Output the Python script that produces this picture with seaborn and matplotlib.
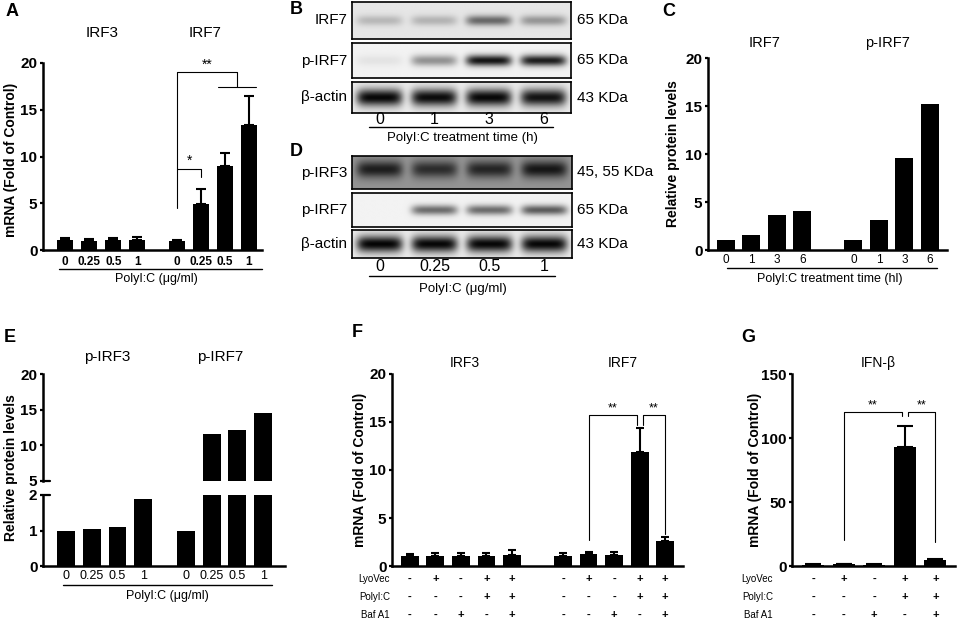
import numpy as np
import matplotlib
matplotlib.use('Agg')
import matplotlib.pyplot as plt
import seaborn as sns
from matplotlib.lines import Line2D
from matplotlib.transforms import blended_transform_factory

# ---- values ----
a_labels = ['0', '0.25', '0.5', '1']
a_irf3 = [1.05, 1.0, 1.1, 1.1]
a_irf3_top = [1.3, 1.2, 1.25, 1.4]
a_irf7 = [1.0, 4.95, 8.95, 13.35]
a_irf7_top = [1.1, 6.5, 10.4, 16.5]

c_labels = ['0', '1', '3', '6']
c_irf7 = [1.0, 1.6, 3.6, 4.1]
c_pirf7 = [1.0, 3.1, 9.6, 15.2]

e_labels = ['0', '0.25', '0.5', '1']
e_pirf3 = [1.0, 1.05, 1.1, 1.88]
e_pirf7 = [1.0, 11.6, 12.2, 14.6]

f_irf3 = [1.05, 1.05, 1.05, 1.05, 1.1]
f_irf3_top = [1.25, 1.35, 1.35, 1.4, 1.65]
f_irf7 = [1.05, 1.2, 1.1, 11.9, 2.6]
f_irf7_top = [1.35, 1.45, 1.5, 14.4, 3.0]

g_ifnb = [1.0, 1.2, 1.0, 93.0, 5.0]
g_ifnb_top = [1.3, 1.5, 1.2, 109.0, 5.8]

treat_rows = ['LyoVec', 'PolyI:C', 'Baf A1']
lyovec = ['-', '+', '-', '+', '+']
polyic = ['-', '-', '-', '+', '+']
bafa1 = ['-', '-', '+', '-', '+']

# western blots: band darkness per lane (0 = none, 1 = black)
b_lanes = ['0', '1', '3', '6']
b_rows = ['IRF7', 'p-IRF7', 'β-actin']
b_kda = ['65 KDa', '65 KDa', '43 KDa']
b_irf7_band = [0.2, 0.22, 0.55, 0.35]
b_pirf7_band = [0.06, 0.4, 0.92, 0.88]
b_actin_band = [0.97, 0.95, 0.97, 0.92]

d_lanes = ['0', '0.25', '0.5', '1']
d_rows = ['p-IRF3', 'p-IRF7', 'β-actin']
d_kda = ['45, 55 KDa', '65 KDa', '43 KDa']
d_pirf3_band = [0.8, 0.7, 0.75, 0.85]
d_pirf7_band = [0.0, 0.55, 0.55, 0.62]
d_actin_band = [0.98, 0.97, 0.97, 0.97]

# ---- style ----
sns.set_style('ticks', rc={'text.color': 'black', 'axes.labelcolor': 'black',
                           'xtick.color': 'black', 'ytick.color': 'black',
                           'axes.edgecolor': 'black'})
plt.rcParams['font.family'] = ['Liberation Sans', 'DejaVu Sans']

W, H = 957, 619
fig = plt.figure(figsize=(W / 100, H / 100), dpi=100)


def ax_px(x0, y0, x1, y1):
    return fig.add_axes([x0 / W, 1 - y1 / H, (x1 - x0) / W, (y1 - y0) / H])


def txt(x, y, s, ha='center', **kw):
    fig.text(x / W, 1 - y / H, s, ha=ha, va='center', **kw)


def hline(x0, x1, y, lw=1.0):
    fig.add_artist(Line2D([x0 / W, x1 / W], [1 - y / H] * 2, color='black',
                          lw=lw, transform=fig.transFigure))


def group_x(n, start):
    return [start + i for i in range(n)]


def bars(ax, x, y, top=None, width=0.7, cap=3.5):
    sns.barplot(x=x, y=y, native_scale=True, orient='x', color='black',
                saturation=1, width=width, errorbar=None, linewidth=0, ax=ax)
    if top is not None:
        y = np.asarray(y)
        top = np.asarray(top)
        ax.errorbar(x, y, yerr=[np.zeros_like(y), top - y], fmt='none',
                    ecolor='black', elinewidth=1.5, capsize=cap, capthick=1.5)


def style(ax, ylim, yticks, xlim):
    ax.set_ylim(*ylim)
    ax.set_xlim(*xlim)
    ax.set_yticks(yticks)
    ax.set_yticklabels([str(v) for v in yticks], fontweight='bold', fontsize=11)
    sns.despine(ax=ax)
    for s in ['left', 'bottom']:
        ax.spines[s].set_linewidth(1.8)
    ax.tick_params(axis='y', width=1.6, length=2.5, pad=1.5)
    ax.tick_params(axis='x', length=0)
    ax.set_xlabel('')
    ax.set_ylabel('')


def bracket(ax, xs, ys, lw=0.8):
    ax.plot(xs, ys, color='black', lw=lw, clip_on=False)


def blot(box, bands, bg, yc, sig, hw=0.42):
    ax = ax_px(*box)
    xs = np.linspace(0, 4, 400)
    ys = np.linspace(0, 1, 60)
    X, Y = np.meshgrid(xs, ys)
    dark = np.full_like(X, bg)
    for i, d in enumerate(bands):
        prof = np.exp(-((X - (i + 0.5)) / hw) ** 6) * np.exp(-((Y - yc) / sig) ** 2)
        dark = dark + (1 - dark) * d * prof
    ax.imshow(1 - dark, cmap='gray', vmin=0, vmax=1, extent=(0, 4, 0, 1),
              aspect='auto', origin='lower')
    ax.set_xticks([])
    ax.set_yticks([])
    for s in ax.spines.values():
        s.set_visible(True)
        s.set_linewidth(1.2)
    return ax


# ---- A ----
ax = ax_px(43, 63, 262, 250)
xa = group_x(4, 0) + group_x(4, 4.66)
bars(ax, xa, a_irf3 + a_irf7, a_irf3_top + a_irf7_top, width=0.68)
style(ax, (0, 20), [0, 5, 10, 15, 20], (-0.93, 8.2))
ax.set_xticks(xa)
ax.set_xticklabels(a_labels * 2, fontweight='bold', fontsize=8.5)
ax.tick_params(axis='x', pad=4)
bracket(ax, [xa[4], xa[4], (xa[6] + xa[7]) / 2, (xa[6] + xa[7]) / 2], [4.45, 19.0, 19.0, 17.4])
bracket(ax, [xa[6] - 0.3, xa[7] + 0.3], [17.4, 17.4])
bracket(ax, [xa[4], xa[5], xa[5]], [8.7, 8.7, 7.8])
ax.text((xa[4] + xa[5]) / 2, 8.8, '*', ha='center', va='bottom', fontsize=10)
ax.text((xa[4] + (xa[6] + xa[7]) / 2) / 2, 19.1, '**', ha='center', va='bottom', fontsize=10)
hline(59, 262, 269)
txt(156, 279, 'PolyI:C (μg/ml)', fontsize=9)
txt(102, 33, 'IRF3', fontsize=11)
txt(205, 33, 'IRF7', fontsize=11)
txt(11, 160, 'mRNA (Fold of Control)', rotation=90, fontsize=10, fontweight='bold')
txt(12, 12, 'A', fontsize=13, fontweight='bold')

# ---- B ----
b_boxes = [(352, 2, 571, 39), (352, 43, 571, 78), (352, 82, 571, 113)]
blot(b_boxes[0], b_irf7_band, 0.1, 0.5, 0.14)
blot(b_boxes[1], b_pirf7_band, 0.05, 0.5, 0.16)
blot(b_boxes[2], b_actin_band, 0.08, 0.5, 0.28)
for (x0, y0, x1, y1), name, kda in zip(b_boxes, b_rows, b_kda):
    txt(347, (y0 + y1) / 2, name, ha='right', fontsize=11)
    txt(577, (y0 + y1) / 2, kda, ha='left', fontsize=11)
for i, lab in enumerate(b_lanes):
    txt(352 + (i + 0.5) * 219 / 4, 119, lab, fontsize=11.5)
hline(369, 553, 127)
txt(462, 138, 'PolyI:C treatment time (h)', fontsize=9.5)
txt(296, 10, 'B', fontsize=13, fontweight='bold')

# ---- D ----
d_boxes = [(352, 156, 572, 189), (352, 193, 572, 227), (352, 230, 572, 258)]
blot(d_boxes[0], d_pirf3_band, 0.42, 0.6, 0.26)
blot(d_boxes[1], d_pirf7_band, 0.05, 0.5, 0.15)
blot(d_boxes[2], d_actin_band, 0.08, 0.5, 0.3)
for (x0, y0, x1, y1), name, kda in zip(d_boxes, d_rows, d_kda):
    txt(347, (y0 + y1) / 2, name, ha='right', fontsize=11)
    txt(577, (y0 + y1) / 2, kda, ha='left', fontsize=11)
for i, lab in enumerate(d_lanes):
    txt(352 + (i + 0.5) * 220 / 4, 267, lab, fontsize=11.5)
hline(369, 555, 276)
txt(463, 289, 'PolyI:C (μg/ml)', fontsize=9.5)
txt(296, 152, 'D', fontsize=13, fontweight='bold')

# ---- C ----
ax = ax_px(708, 58, 947, 250)
xc = group_x(4, 0) + group_x(4, 5)
bars(ax, xc, c_irf7 + c_pirf7, width=0.7)
style(ax, (0, 20), [0, 5, 10, 15, 20], (-0.7, 8.67))
ax.set_xticks(xc)
ax.set_xticklabels(c_labels * 2, fontsize=8.5)
ax.tick_params(axis='x', pad=3)
hline(727, 937, 268)
txt(830, 279, 'PolyI:C treatment time (hl)', fontsize=9)
txt(765, 43, 'IRF7', fontsize=10.5)
txt(887, 43, 'p-IRF7', fontsize=10.5)
txt(673, 154, 'Relative protein levels', rotation=90, fontsize=10, fontweight='bold')
txt(669, 11, 'C', fontsize=13, fontweight='bold')

# ---- E (broken axis) ----
xe = group_x(4, 0) + group_x(4, 4.67)
ax_top = ax_px(43, 374, 285, 481)
ax_bot = ax_px(43, 495, 285, 566)
for a in (ax_top, ax_bot):
    bars(a, xe, e_pirf3 + e_pirf7, width=0.7)
style(ax_top, (5, 20), [5, 10, 15, 20], (-0.9, 8.52))
style(ax_bot, (0, 2), [0, 1, 2], (-0.9, 8.52))
ax_top.spines['bottom'].set_visible(False)
ax_top.set_xticks([])
ax_top.plot([0, 0.03], [0, 0], color='black', lw=1.6, transform=ax_top.transAxes, clip_on=False)
ax_bot.plot([0, 0.03], [1, 1], color='black', lw=1.6, transform=ax_bot.transAxes, clip_on=False)
ax_bot.set_xticks(xe)
ax_bot.set_xticklabels(e_labels * 2, fontsize=9)
ax_bot.tick_params(axis='x', pad=3)
hline(63, 272, 585)
txt(167, 596, 'PolyI:C (μg/ml)', fontsize=9)
txt(107, 357, 'p-IRF3', fontsize=11)
txt(220, 357, 'p-IRF7', fontsize=11)
txt(11, 468, 'Relative protein levels', rotation=90, fontsize=10, fontweight='bold')
txt(10, 337, 'E', fontsize=13, fontweight='bold')

treat_signs = [lyovec, polyic, bafa1]
row_y = [579, 597, 615]


def treat_table(ax, xs, signs, label_x):
    tr = blended_transform_factory(ax.transData, fig.transFigure)
    for name, row, ypx in zip(treat_rows, signs, row_y):
        txt(label_x, ypx, name, ha='right', fontsize=7)
        for xv, s in zip(xs, row):
            ax.text(xv, 1 - ypx / H, s, transform=tr, ha='center', va='center',
                    fontsize=8, fontweight='bold')


# ---- F ----
ax = ax_px(392, 374, 683, 566)
xf = group_x(5, 0) + group_x(5, 6)
bars(ax, xf, f_irf3 + f_irf7, f_irf3_top + f_irf7_top, width=0.7, cap=3.2)
style(ax, (0, 20), [0, 5, 10, 15, 20], (-0.7, 10.7))
ax.set_xticks([])
bracket(ax, [xf[6], xf[6], xf[8] - 0.12, xf[8] - 0.12], [2.7, 15.7, 15.7, 14.7])
bracket(ax, [xf[8] + 0.12, xf[8] + 0.12, xf[9], xf[9]], [14.7, 15.7, 15.7, 3.3])
ax.text((xf[6] + xf[8] - 0.12) / 2, 15.8, '**', ha='center', va='bottom', fontsize=9)
ax.text((xf[8] + 0.12 + xf[9]) / 2, 15.8, '**', ha='center', va='bottom', fontsize=9)
treat_table(ax, xf, [r + r for r in treat_signs], 390)
txt(465, 363, 'IRF3', fontsize=10)
txt(623, 363, 'IRF7', fontsize=10)
txt(360, 470, 'mRNA (Fold of Control)', rotation=90, fontsize=10, fontweight='bold')
txt(357, 333, 'F', fontsize=13, fontweight='bold')

# ---- G ----
ax = ax_px(792, 374, 955, 566)
xg = group_x(5, 0)
bars(ax, xg, g_ifnb, g_ifnb_top, width=0.72, cap=6)
style(ax, (0, 150), [0, 50, 100, 150], (-0.69, 4.64))
ax.set_xticks([])
bracket(ax, [xg[1], xg[1], xg[3] - 0.1, xg[3] - 0.1], [20, 120.5, 120.5, 117])
bracket(ax, [xg[3] + 0.1, xg[3] + 0.1, xg[4], xg[4]], [117, 120.5, 120.5, 19])
ax.text((xg[1] + xg[3] - 0.1) / 2, 121, '**', ha='center', va='bottom', fontsize=9)
ax.text((xg[3] + 0.1 + xg[4]) / 2, 121, '**', ha='center', va='bottom', fontsize=9)
treat_table(ax, xg, treat_signs, 773)
txt(878, 363, 'IFN-β', fontsize=10)
txt(755, 470, 'mRNA (Fold of Control)', rotation=90, fontsize=10, fontweight='bold')
txt(748, 337, 'G', fontsize=13, fontweight='bold')

fig.savefig('out.png', dpi=100)
